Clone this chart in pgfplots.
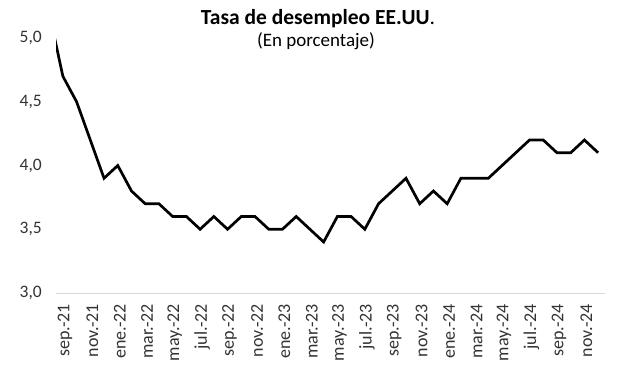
\documentclass[border=0pt]{standalone}
\usepackage{pgfplots}
\pgfplotsset{compat=1.18}
\usepackage{fontspec}
\setmainfont{Carlito}
\begin{document}
\begin{tikzpicture}[x=1bp,y=1bp]
\path[use as bounding box] (0,0) rectangle (630,376);
\begin{axis}[
  at={(56bp,83bp)}, anchor=south west,
  scale only axis, width=549bp, height=255bp,
  xmin=0.5, xmax=40.5, ymin=3, ymax=5,
  axis x line*=bottom, axis y line*=left,
  x axis line style={draw=black!15, line width=0.8bp, -},
  y axis line style={draw=none},
  xtick={1,3,...,39},
  xticklabels={sep.-21,nov.-21,ene.-22,mar.-22,may.-22,jul.-22,sep.-22,nov.-22,ene.-23,mar.-23,may.-23,jul.-23,sep.-23,nov.-23,ene.-24,mar.-24,may.-24,jul.-24,sep.-24,nov.-24},
  ytick={3,3.5,4,4.5,5},
  major tick length=0pt,
  xticklabel shift=11bp,
  xticklabel style={rotate=90, anchor=east, inner sep=0pt, yshift=-2bp, font=\fontsize{18bp}{20bp}\selectfont, text=black!80},
  yticklabel style={anchor=east, inner sep=0pt, xshift=-14bp, font=\fontsize{17.5bp}{20bp}\selectfont, text=black!80},
  yticklabel={\pgfmathprintnumber[fixed,fixed zerofill,precision=1,use comma,assume math mode=true]{\tick}},
  clip=true,
]
\addplot[line width=2.7bp, black, line join=miter] coordinates {
(0,5.2)(1,4.7)(2,4.5)(3,4.2)(4,3.9)(5,4.0)(6,3.8)(7,3.7)(8,3.7)(9,3.6)(10,3.6)
(11,3.5)(12,3.6)(13,3.5)(14,3.6)(15,3.6)(16,3.5)(17,3.5)(18,3.6)(19,3.5)(20,3.4)
(21,3.6)(22,3.6)(23,3.5)(24,3.7)(25,3.8)(26,3.9)(27,3.7)(28,3.8)(29,3.7)(30,3.9)
(31,3.9)(32,3.9)(33,4.0)(34,4.1)(35,4.2)(36,4.2)(37,4.1)(38,4.1)(39,4.2)(40,4.1)
};
\end{axis}
\node[anchor=base, inner sep=0pt, font=\fontsize{21.5bp}{25bp}\selectfont] at (318,352) {\textbf{Tasa de desempleo EE.UU}.};
\node[anchor=base, inner sep=0pt, font=\fontsize{19bp}{22bp}\selectfont] at (316,330) {(En porcentaje)};
\end{tikzpicture}
\end{document}
